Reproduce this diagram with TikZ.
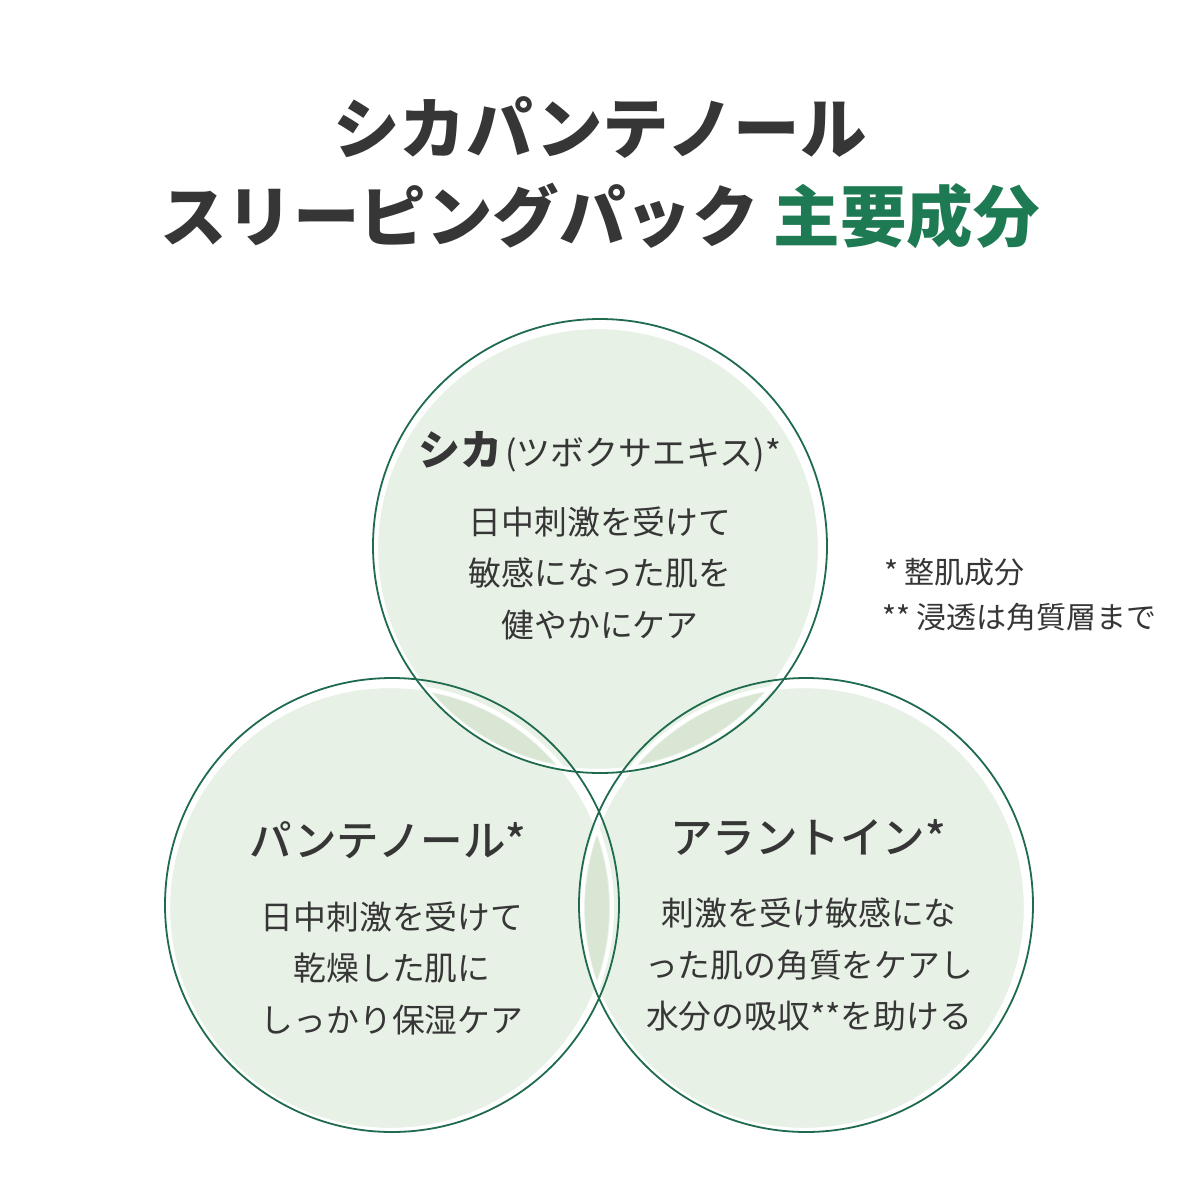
\documentclass[tikz,border=0pt]{standalone}
\usepackage{fontspec}
\setmainfont{Noto Sans CJK JP}
\newfontfamily\medfont{Noto Sans CJK JP Medium}
\definecolor{txt}{HTML}{363636}
\definecolor{ttlgreen}{HTML}{1E7A52}
\definecolor{ring}{HTML}{1F6B4E}
\definecolor{disk}{HTML}{E8F1E6}
\definecolor{lens}{HTML}{D9E6D4}
\tikzset{
  ringline/.style={draw=ring, line width=1.8pt},
  diskfill/.style={fill=disk, draw=white, line width=4pt},
  bodytxt/.style={text=txt, align=center, inner sep=0pt, font=\fontsize{32.8}{51.5}\selectfont},
  headtxt/.style={text=txt, inner sep=0pt, font=\medfont\fontsize{42.5}{42.5}\selectfont},
  notetxt/.style={text=txt, inner sep=0pt, anchor=west, font=\fontsize{30}{30}\selectfont},
  titletxt/.style={text=txt, inner sep=0pt, font=\bfseries\fontsize{66.5}{66.5}\selectfont}
}
\begin{document}
\begin{tikzpicture}[x=1pt,y=-1pt]
\useasboundingbox[fill=white] (0,0) rectangle (1200,1200);
% centers
\coordinate (cT) at (600,546);
\coordinate (cL) at (392,905);
\coordinate (cR) at (806,905);
\coordinate (fT) at (598,549);
\coordinate (fL) at (390,908);
\coordinate (fR) at (804,908);
\def\rr{227}
\def\rf{222}
\def\rl{219}
% fill disks
\fill[diskfill] (fT) circle (\rf);
\fill[diskfill] (fL) circle (\rf);
\fill[diskfill] (fR) circle (\rf);
\draw[white, line width=4pt] (fT) circle (\rf);
\draw[white, line width=4pt] (fL) circle (\rf);
\draw[white, line width=4pt] (fR) circle (\rf);
% lenses
\begin{scope}
  \clip (fT) circle (\rl);
  \fill[lens] (fL) circle (\rl);
  \fill[lens] (fR) circle (\rl);
\end{scope}
\begin{scope}
  \clip (fL) circle (\rl);
  \fill[lens] (fR) circle (\rl);
\end{scope}
\begin{scope}
  \clip (fT) circle (\rf+2);
  \clip (fL) circle (\rf+2);
  \clip (fR) circle (\rf+2);
  \fill[white] (fT) circle (\rf);
\end{scope}
% outline rings
\draw[ringline] (cT) circle (\rr);
\draw[ringline] (cL) circle (\rr);
\draw[ringline] (cR) circle (\rr);
% title
\node[titletxt] (t1) at (600,128) {シカパンテノール};
\node[titletxt] (t2) at (600,216) {スリーピングパック \textcolor{ttlgreen}{主要成分}};
% top circle
\node[text=txt, inner sep=0pt] (hT) at (600,452) {{\bfseries\fontsize{42}{42}\selectfont シカ} {\fontsize{34}{34}\selectfont (ツボクサエキス)*}};
\node[bodytxt] (bT) at (600,573) {日中刺激を受けて\\敏感になった肌を\\健やかにケア};
% bottom-left
\node[headtxt] (hL) at (388,840) {パンテノール*};
\node[bodytxt] (bL) at (392,968) {日中刺激を受けて\\乾燥した肌に\\しっかり保湿ケア};
% bottom-right
\node[headtxt] (hR) at (808,838) {アラントイン*};
\node[bodytxt] (bR) at (809,965) {刺激を受け敏感にな\\った肌の角質をケアし\\水分の吸収**を助ける};
% notes
\node[notetxt] (n1) at (884,572) {* 整肌成分};
\node[notetxt] (n2) at (882,617) {** 浸透は角質層まで};
\end{tikzpicture}
\end{document}
